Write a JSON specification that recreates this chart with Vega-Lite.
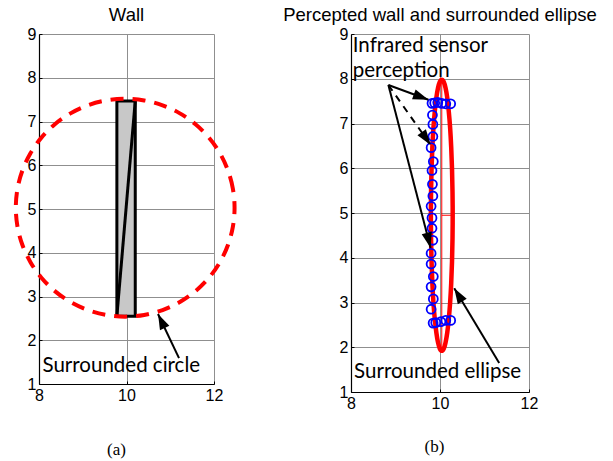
{
  "$schema": "https://vega.github.io/schema/vega-lite/v6.json",
  "padding": {"left": 7, "top": 5, "right": 5, "bottom": 5},
  "spacing": 137,
  "bounds": "flush",
  "config": {
    "view": {"stroke": null},
    "font": "Liberation Sans",
    "title": {"fontSize": 18.5, "fontWeight": "normal", "font": "Liberation Sans", "color": "black", "offset": 2},
    "axis": {
      "labelFont": "Liberation Sans", "labelFontSize": 16, "labelColor": "black", "labelFlush": false,
      "domainColor": "black", "domainWidth": 1.2,
      "tickColor": "black", "tickSize": -3, "labelPadding": 6,
      "gridColor": "#8f8f8f", "gridWidth": 1,
      "titleFont": "Liberation Serif", "titleFontSize": 17, "titleFontWeight": "normal", "titleColor": "black"
    }
  },
  "datasets": {
    "circle": [
      {"i": 0, "x": 12.47, "y": 5.03}, {"i": 1, "x": 12.432, "y": 5.462}, {"i": 2, "x": 12.319, "y": 5.882},
      {"i": 3, "x": 12.135, "y": 6.275}, {"i": 4, "x": 11.885, "y": 6.631}, {"i": 5, "x": 11.577, "y": 6.937},
      {"i": 6, "x": 11.22, "y": 7.186}, {"i": 7, "x": 10.825, "y": 7.37}, {"i": 8, "x": 10.404, "y": 7.482},
      {"i": 9, "x": 9.97, "y": 7.52}, {"i": 10, "x": 9.536, "y": 7.482}, {"i": 11, "x": 9.115, "y": 7.37},
      {"i": 12, "x": 8.72, "y": 7.186}, {"i": 13, "x": 8.363, "y": 6.937}, {"i": 14, "x": 8.055, "y": 6.631},
      {"i": 15, "x": 7.805, "y": 6.275}, {"i": 16, "x": 7.621, "y": 5.882}, {"i": 17, "x": 7.508, "y": 5.462},
      {"i": 18, "x": 7.47, "y": 5.03}, {"i": 19, "x": 7.508, "y": 4.598}, {"i": 20, "x": 7.621, "y": 4.178},
      {"i": 21, "x": 7.805, "y": 3.785}, {"i": 22, "x": 8.055, "y": 3.429}, {"i": 23, "x": 8.363, "y": 3.123},
      {"i": 24, "x": 8.72, "y": 2.874}, {"i": 25, "x": 9.115, "y": 2.69}, {"i": 26, "x": 9.536, "y": 2.578},
      {"i": 27, "x": 9.97, "y": 2.54}, {"i": 28, "x": 10.404, "y": 2.578}, {"i": 29, "x": 10.825, "y": 2.69},
      {"i": 30, "x": 11.22, "y": 2.874}, {"i": 31, "x": 11.577, "y": 3.123}, {"i": 32, "x": 11.885, "y": 3.429},
      {"i": 33, "x": 12.135, "y": 3.785}, {"i": 34, "x": 12.319, "y": 4.178}, {"i": 35, "x": 12.432, "y": 4.598}
    ],
    "wall": [{"x": 9.78, "x2": 10.2, "y": 2.55, "y2": 7.47}],
    "arrowsA": [{"id": "circle", "x": 11.2, "y": 1.59, "x2": 10.72, "y2": 2.6}],
    "headsA": [{"id": "circle", "x": 10.72, "y": 2.6}],
    "labelsA": [{"label": "Surrounded circle", "x": 8.08, "y": 1.275}],
    "ellipse": [
      {"i": 0, "x": 10.285, "y": 4.95}, {"i": 1, "x": 10.281, "y": 5.476}, {"i": 2, "x": 10.27, "y": 5.986},
      {"i": 3, "x": 10.252, "y": 6.465}, {"i": 4, "x": 10.228, "y": 6.898}, {"i": 5, "x": 10.197, "y": 7.271},
      {"i": 6, "x": 10.163, "y": 7.574}, {"i": 7, "x": 10.124, "y": 7.797}, {"i": 8, "x": 10.083, "y": 7.934},
      {"i": 9, "x": 10.04, "y": 7.98}, {"i": 10, "x": 9.997, "y": 7.934}, {"i": 11, "x": 9.956, "y": 7.797},
      {"i": 12, "x": 9.918, "y": 7.574}, {"i": 13, "x": 9.883, "y": 7.271}, {"i": 14, "x": 9.852, "y": 6.898},
      {"i": 15, "x": 9.828, "y": 6.465}, {"i": 16, "x": 9.81, "y": 5.986}, {"i": 17, "x": 9.799, "y": 5.476},
      {"i": 18, "x": 9.795, "y": 4.95}, {"i": 19, "x": 9.799, "y": 4.424}, {"i": 20, "x": 9.81, "y": 3.914},
      {"i": 21, "x": 9.828, "y": 3.435}, {"i": 22, "x": 9.852, "y": 3.002}, {"i": 23, "x": 9.883, "y": 2.629},
      {"i": 24, "x": 9.918, "y": 2.326}, {"i": 25, "x": 9.956, "y": 2.103}, {"i": 26, "x": 9.997, "y": 1.966},
      {"i": 27, "x": 10.04, "y": 1.92}, {"i": 28, "x": 10.083, "y": 1.966}, {"i": 29, "x": 10.124, "y": 2.103},
      {"i": 30, "x": 10.163, "y": 2.326}, {"i": 31, "x": 10.197, "y": 2.629}, {"i": 32, "x": 10.228, "y": 3.002},
      {"i": 33, "x": 10.252, "y": 3.435}, {"i": 34, "x": 10.27, "y": 3.914}, {"i": 35, "x": 10.281, "y": 4.424}
    ],
    "ellipseAxes": [
      {"x": 10.04, "y": 1.92, "x2": 10.04, "y2": 7.98},
      {"x": 10.04, "y": 4.95, "x2": 10.285, "y2": 4.95}
    ],
    "sensor": [
      {"x": 9.82, "y": 7.45}, {"x": 9.88, "y": 7.46}, {"x": 9.95, "y": 7.47}, {"x": 10.04, "y": 7.45},
      {"x": 10.13, "y": 7.44}, {"x": 10.24, "y": 7.44},
      {"x": 9.83, "y": 7.19}, {"x": 9.84, "y": 6.98}, {"x": 9.84, "y": 6.71}, {"x": 9.8, "y": 6.46},
      {"x": 9.85, "y": 6.15}, {"x": 9.82, "y": 5.95}, {"x": 9.83, "y": 5.64}, {"x": 9.84, "y": 5.38},
      {"x": 9.8, "y": 5.15}, {"x": 9.82, "y": 4.89}, {"x": 9.82, "y": 4.66}, {"x": 9.84, "y": 4.39},
      {"x": 9.8, "y": 4.1}, {"x": 9.8, "y": 3.86}, {"x": 9.85, "y": 3.58}, {"x": 9.8, "y": 3.35},
      {"x": 9.85, "y": 3.08}, {"x": 9.8, "y": 2.85},
      {"x": 9.845, "y": 2.54}, {"x": 9.905, "y": 2.55}, {"x": 10.02, "y": 2.57}, {"x": 10.13, "y": 2.6},
      {"x": 10.24, "y": 2.6}
    ],
    "arrowsB": [
      {"id": "top", "x": 8.84, "y": 7.86, "x2": 9.74, "y2": 7.53},
      {"id": "mid", "x": 8.84, "y": 7.86, "x2": 9.79, "y2": 6.52},
      {"id": "low", "x": 8.84, "y": 7.86, "x2": 9.79, "y2": 4.22},
      {"id": "ellipse", "x": 11.33, "y": 1.65, "x2": 10.32, "y2": 3.32}
    ],
    "headsB": [
      {"id": "top", "x": 9.74, "y": 7.53},
      {"id": "mid", "x": 9.79, "y": 6.52},
      {"id": "low", "x": 9.79, "y": 4.22},
      {"id": "ellipse", "x": 10.32, "y": 3.32}
    ],
    "labelsB": [
      {"label": "Infrared sensor", "x": 8.04, "y": 8.59},
      {"label": "perception", "x": 8.04, "y": 8.05},
      {"label": "Surrounded ellipse", "x": 8.07, "y": 1.315}
    ]
  },
  "hconcat": [
    {
      "title": "Wall",
      "width": 175,
      "height": 350,
      "encoding": {
        "x": {
          "field": "x", "type": "quantitative",
          "scale": {"domain": [8, 12], "nice": false, "zero": false},
          "axis": {"values": [8, 10, 12], "title": "(a)", "titleX": 77, "titleY": 65, "titleBaseline": "middle"}
        },
        "y": {
          "field": "y", "type": "quantitative",
          "scale": {"domain": [1, 9], "nice": false, "zero": false},
          "axis": {"values": [1, 2, 3, 4, 5, 6, 7, 8, 9], "title": null}
        }
      },
      "layer": [
        {
          "data": {"name": "wall"},
          "mark": {"type": "rect", "fill": "#c8c8c8", "stroke": "black", "strokeWidth": 3, "clip": false},
          "encoding": {"x2": {"field": "x2"}, "y2": {"field": "y2"}}
        },
        {
          "data": {"name": "wall"},
          "mark": {"type": "rule", "color": "black", "strokeWidth": 3},
          "encoding": {"x2": {"field": "x2"}, "y2": {"field": "y2"}}
        },
        {
          "data": {"name": "circle"},
          "mark": {"type": "line", "color": "#ff0000", "strokeWidth": 4, "strokeDash": [13, 9], "interpolate": "cardinal-closed", "clip": false},
          "encoding": {"order": {"field": "i", "type": "quantitative"}}
        },
        {
          "data": {"name": "arrowsA"},
          "mark": {"type": "rule", "color": "black", "strokeWidth": 2},
          "encoding": {"x2": {"field": "x2"}, "y2": {"field": "y2"}}
        },
        {
          "data": {"name": "headsA"},
          "mark": {"type": "point", "shape": "M0,0L-0.7,2.1L0.7,2.1Z", "size": 220, "filled": true, "color": "black", "opacity": 1, "angle": 334.6}
        },
        {
          "data": {"name": "labelsA"},
          "mark": {"type": "text", "font": "Lato", "fontSize": 20.5, "align": "left", "baseline": "alphabetic", "color": "black"},
          "encoding": {"text": {"field": "label"}}
        }
      ]
    },
    {
      "title": "Percepted wall and surrounded ellipse",
      "width": 178,
      "height": 358,
      "encoding": {
        "x": {
          "field": "x", "type": "quantitative",
          "scale": {"domain": [8, 12], "nice": false, "zero": false},
          "axis": {"values": [8, 10, 12], "title": "(b)", "titleX": 83, "titleY": 54, "titleBaseline": "middle"}
        },
        "y": {
          "field": "y", "type": "quantitative",
          "scale": {"domain": [1, 9], "nice": false, "zero": false},
          "axis": {"values": [1, 2, 3, 4, 5, 6, 7, 8, 9], "title": null}
        }
      },
      "layer": [
        {
          "data": {"name": "ellipse"},
          "mark": {"type": "line", "color": "#ff0000", "strokeWidth": 4.5, "interpolate": "cardinal-closed"},
          "encoding": {"order": {"field": "i", "type": "quantitative"}}
        },
        {
          "data": {"name": "ellipseAxes"},
          "mark": {"type": "rule", "color": "#ff0000", "strokeWidth": 1},
          "encoding": {"x2": {"field": "x2"}, "y2": {"field": "y2"}}
        },
        {
          "data": {"name": "sensor"},
          "mark": {"type": "point", "shape": "circle", "size": 80, "filled": false, "color": "#0000ff", "strokeWidth": 1.8, "opacity": 1}
        },
        {
          "data": {"name": "arrowsB"},
          "transform": [{"filter": "datum.id !== 'mid'"}],
          "mark": {"type": "rule", "color": "black", "strokeWidth": 2},
          "encoding": {"x2": {"field": "x2"}, "y2": {"field": "y2"}}
        },
        {
          "data": {"name": "arrowsB"},
          "transform": [{"filter": "datum.id === 'mid'"}],
          "mark": {"type": "rule", "color": "black", "strokeWidth": 2, "strokeDash": [7, 6]},
          "encoding": {"x2": {"field": "x2"}, "y2": {"field": "y2"}}
        },
        {
          "data": {"name": "headsB"},
          "transform": [{"filter": "datum.id === 'top'"}],
          "mark": {"type": "point", "shape": "M0,0L-0.7,2.1L0.7,2.1Z", "size": 220, "filled": true, "color": "black", "opacity": 1, "angle": 110.3}
        },
        {
          "data": {"name": "headsB"},
          "transform": [{"filter": "datum.id === 'mid'"}],
          "mark": {"type": "point", "shape": "M0,0L-0.7,2.1L0.7,2.1Z", "size": 220, "filled": true, "color": "black", "opacity": 1, "angle": 144.8}
        },
        {
          "data": {"name": "headsB"},
          "transform": [{"filter": "datum.id === 'low'"}],
          "mark": {"type": "point", "shape": "M0,0L-0.7,2.1L0.7,2.1Z", "size": 220, "filled": true, "color": "black", "opacity": 1, "angle": 165.5}
        },
        {
          "data": {"name": "headsB"},
          "transform": [{"filter": "datum.id === 'ellipse'"}],
          "mark": {"type": "point", "shape": "M0,0L-0.7,2.1L0.7,2.1Z", "size": 220, "filled": true, "color": "black", "opacity": 1, "angle": 329}
        },
        {
          "data": {"name": "labelsB"},
          "mark": {"type": "text", "font": "Lato", "fontSize": 20.5, "align": "left", "baseline": "alphabetic", "color": "black"},
          "encoding": {"text": {"field": "label"}}
        }
      ]
    }
  ]
}
